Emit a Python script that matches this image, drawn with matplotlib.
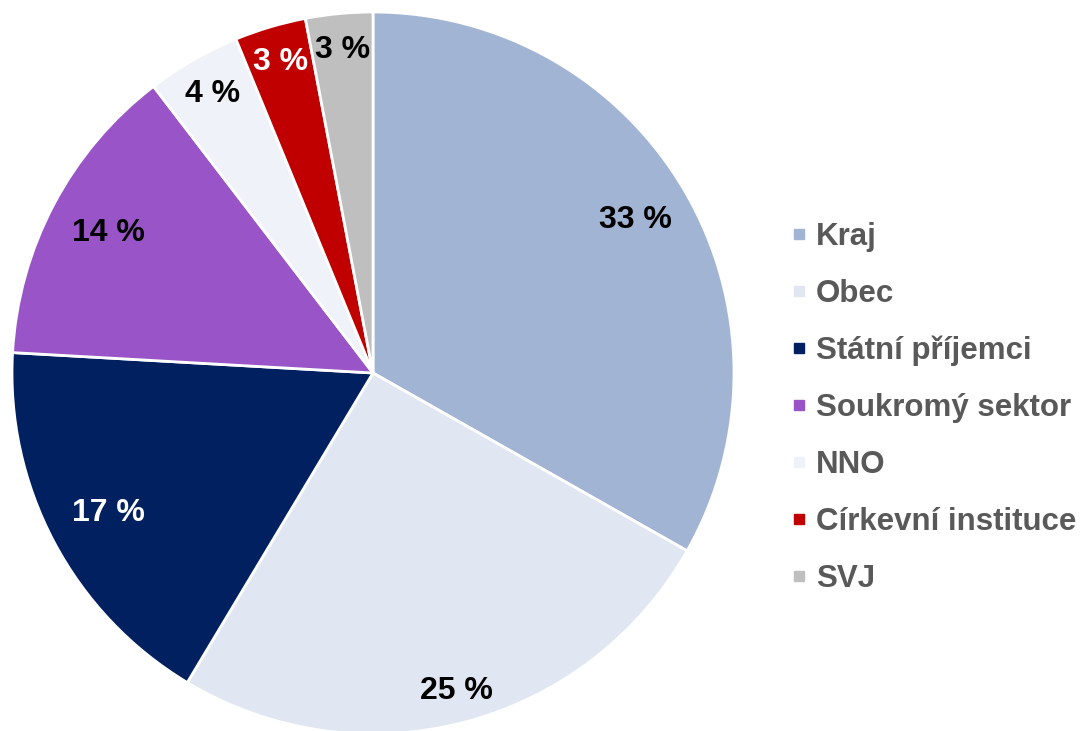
import matplotlib
matplotlib.use("Agg")
import numpy as np
import matplotlib.pyplot as plt
from matplotlib.lines import Line2D

# Data
categories = ["Kraj", "Obec", "Státní příjemci", "Soukromý sektor", "NNO",
              "Církevní instituce", "SVJ"]
shares = [33.2, 25.4, 17.3, 13.7, 4.2, 3.2, 3.0]
pct_labels = ["33 %", "25 %", "17 %", "14 %", "4 %", "3 %", "3 %"]

colors = ["#A2B4D4", "#E0E7F2", "#002060", "#9955C8", "#EFF3F9", "#C00000", "#BFBFBF"]
label_colors = ["black", "black", "white", "black", "black", "white", "black"]
label_dist = [0.84, 0.91, 0.83, 0.83, 0.89, 0.90, 0.90]

plt.rcParams["font.family"] = ["Liberation Sans", "DejaVu Sans"]
plt.rcParams["font.weight"] = "bold"

fig = plt.figure(figsize=(10.86, 7.31), dpi=100)
ax = fig.add_axes([12 / 1086, -3 / 731, 722 / 1086, 722 / 731])

wedges, _ = ax.pie(shares, colors=colors, startangle=90, counterclock=False,
                   radius=1.0, wedgeprops=dict(edgecolor="white", linewidth=2))
for w in wedges:
    w.set_clip_on(False)

# percentage labels inside slices
for w, txt, c, d in zip(wedges, pct_labels, label_colors, label_dist):
    mid = np.deg2rad((w.theta1 + w.theta2) / 2)
    ax.text(d * np.cos(mid), d * np.sin(mid), txt, color=c, fontsize=23,
            fontweight="bold", ha="center", va="center")

ax.set_xlim(-1, 1)
ax.set_ylim(-1, 1)
ax.set_aspect("equal")
ax.axis("off")

# Legend
handles = [Line2D([], [], linestyle="none", marker="s", markersize=7.5,
                  markerfacecolor=c, markeredgecolor=c) for c in colors]
leg = fig.legend(handles, categories, loc="center left",
                 bbox_to_anchor=(777 / 1086, 1 - 408 / 731), frameon=False,
                 fontsize=22.5, labelcolor="#595959", handlelength=0.6,
                 handletextpad=0.25, labelspacing=0.86, borderaxespad=0)
for t in leg.get_texts():
    t.set_fontweight("bold")

fig.savefig("out.png", dpi=100)
